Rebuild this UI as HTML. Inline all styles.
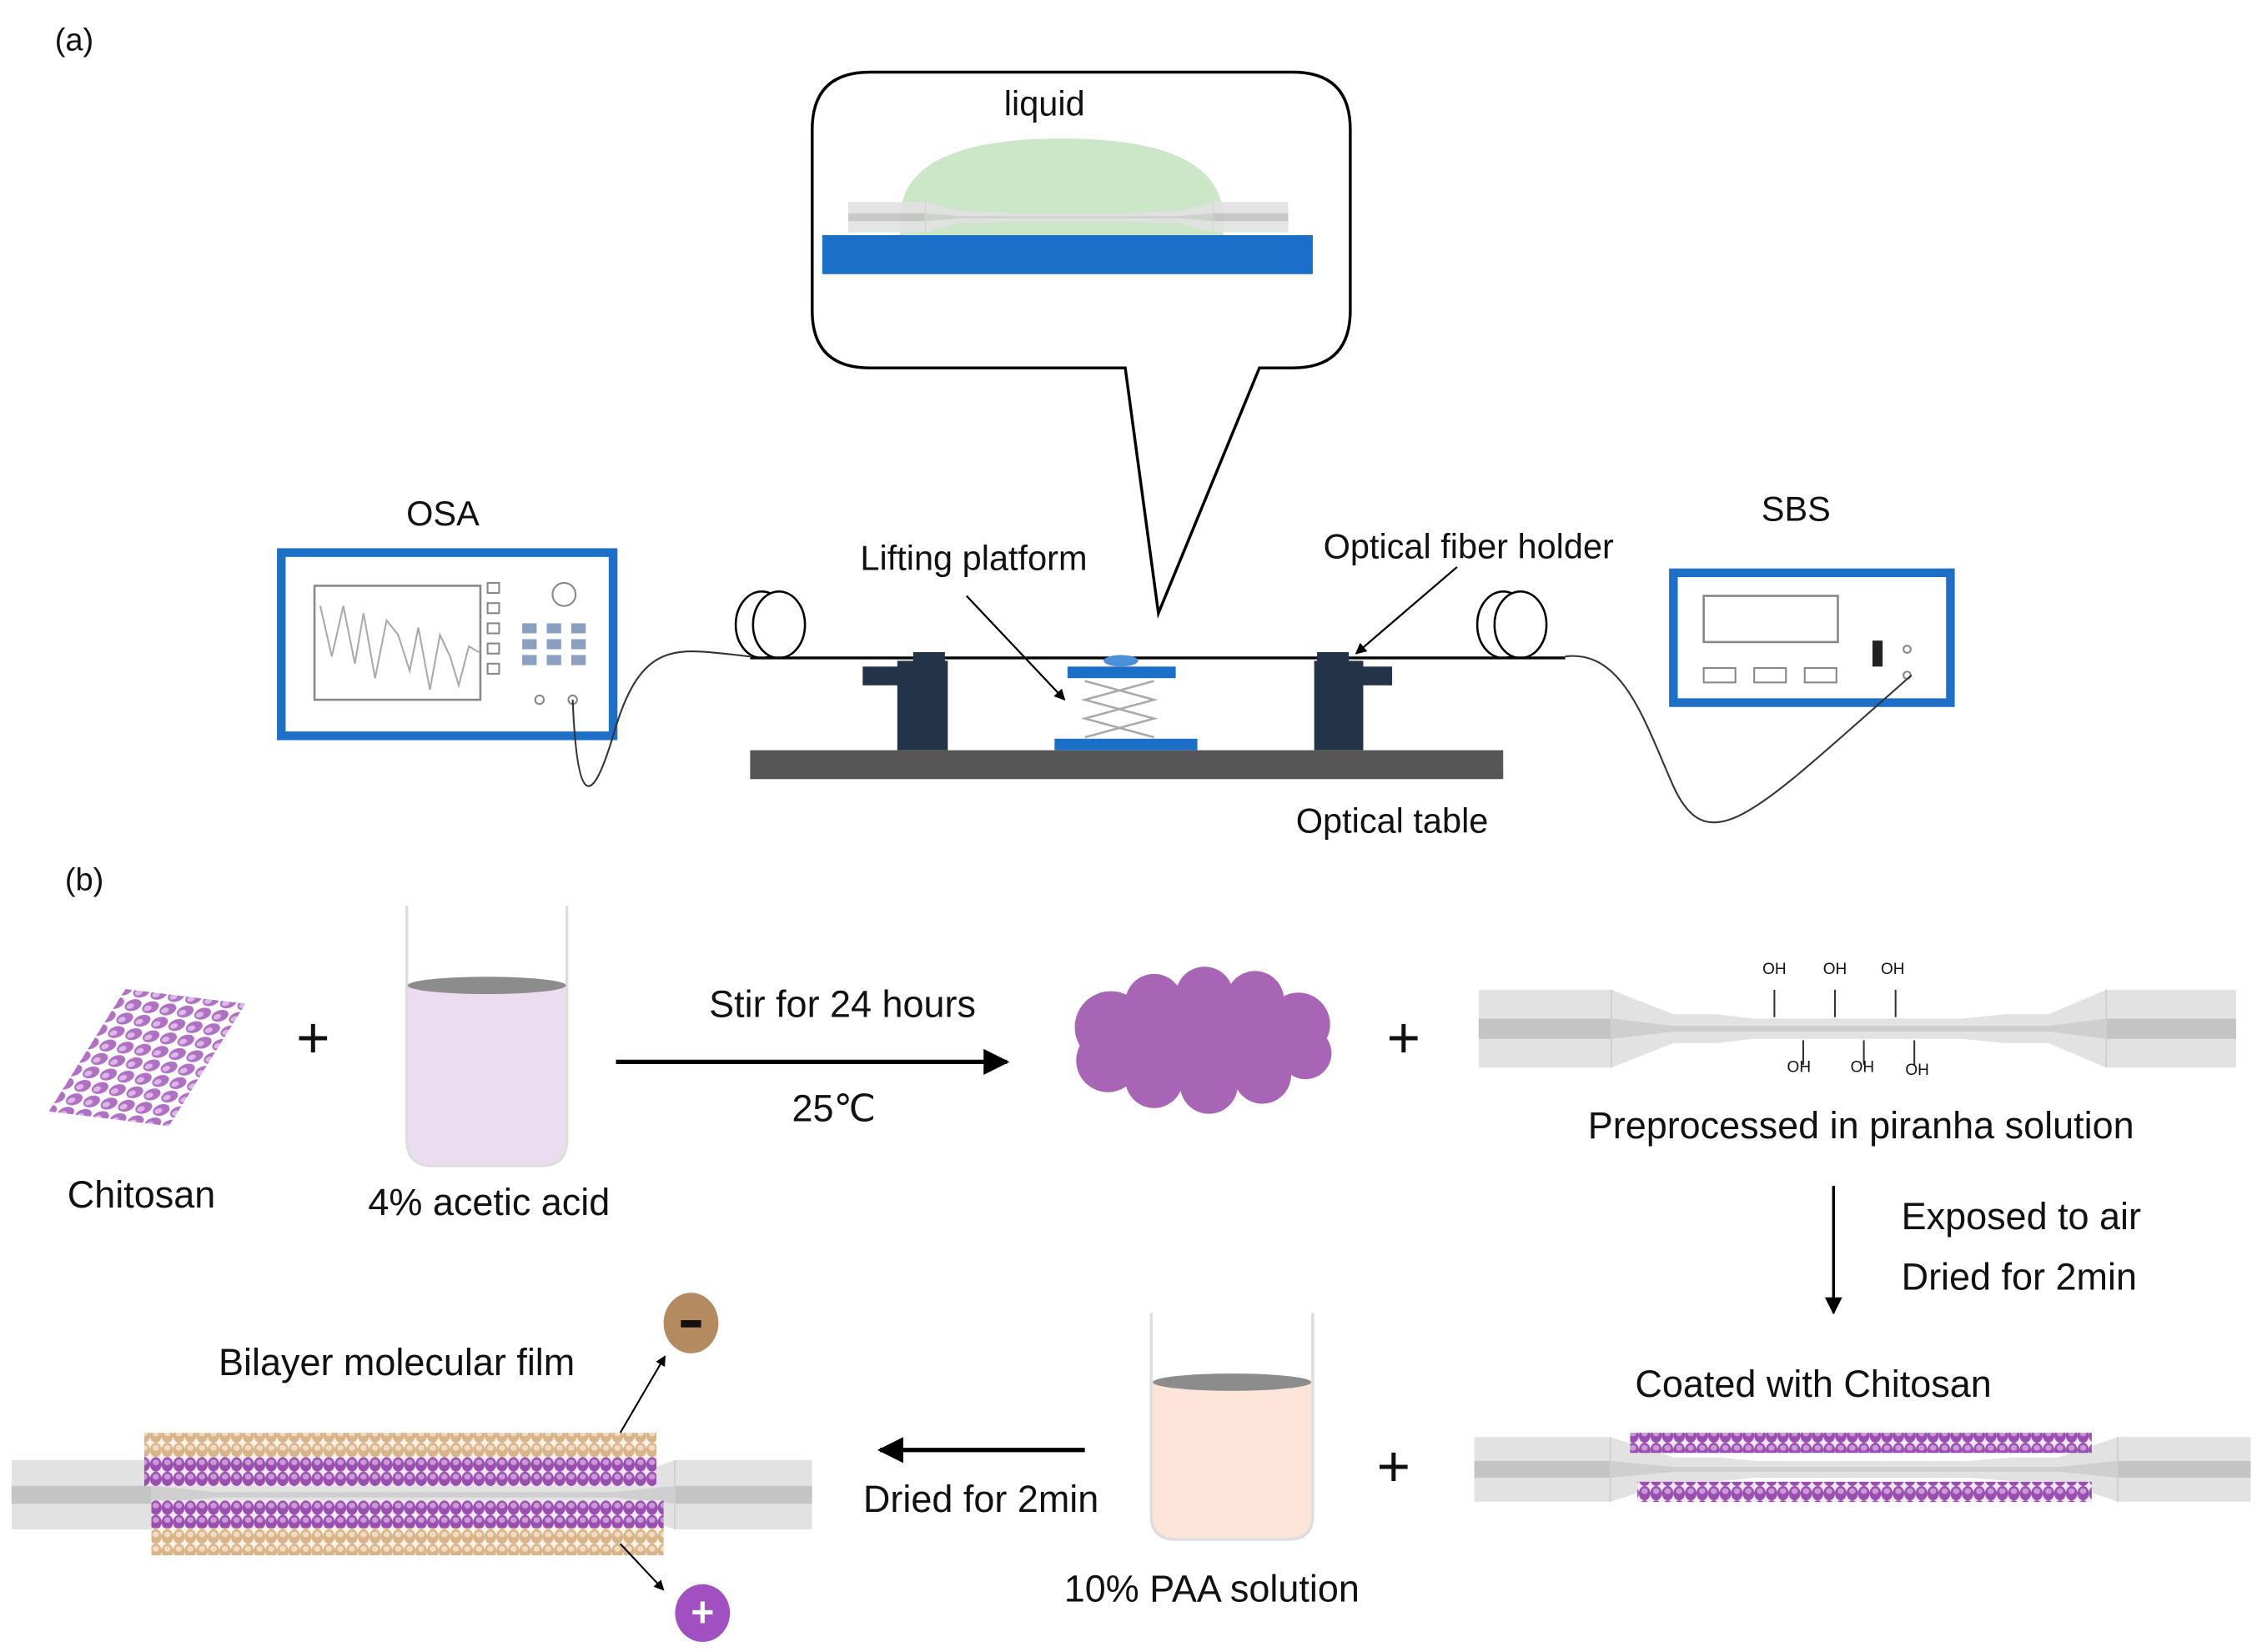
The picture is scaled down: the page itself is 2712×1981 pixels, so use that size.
<!DOCTYPE html>
<html><head><meta charset="utf-8"><style>
html,body{margin:0;padding:0;background:#fff;}
svg{display:block;}
text{font-family:"Liberation Sans",sans-serif;fill:#111;}
</style></head><body>
<svg width="2712" height="1981" viewBox="0 0 1568 1145" preserveAspectRatio="none" xmlns="http://www.w3.org/2000/svg">
<defs>
<pattern id="pur" width="8" height="10" patternUnits="userSpaceOnUse">
<rect width="8" height="10" fill="#f3e8f5"/>
<ellipse cx="4" cy="5" rx="4" ry="5" fill="#9a4fb0"/>
<ellipse cx="4" cy="3.5" rx="2.2" ry="2" fill="#c99ad6"/>
</pattern>
<pattern id="pur2" width="11" height="11" patternUnits="userSpaceOnUse">
<circle cx="5.5" cy="5.5" r="4.8" fill="#b070c4"/>
<circle cx="4.5" cy="4.2" r="2.2" fill="#dcb8e6"/>
</pattern>
<pattern id="tan" width="8" height="10" patternUnits="userSpaceOnUse">
<rect width="8" height="10" fill="#fbf1e6"/>
<ellipse cx="4" cy="5" rx="4" ry="5" fill="#d8b48a"/>
<ellipse cx="4" cy="3.5" rx="2.2" ry="2" fill="#f1dcc2"/>
</pattern>
<marker id="ah" viewBox="0 0 10 10" refX="9" refY="5" markerWidth="6" markerHeight="6" orient="auto-start-reverse">
<path d="M0,0 L10,5 L0,10 z" fill="#000"/></marker>
<g id="fiber">
<path d="M0,0 L92,0 L135,17 L165,17 L190,20 L335,20 L365,17 L395,17 L435,0 L525,0 L525,54 L435,54 L395,37 L365,37 L335,34 L190,34 L165,37 L135,37 L92,54 L0,54 z" fill="#e2e2e2"/>
<path d="M0,20 L92,20 L135,27 L165,27 L190,27 L335,27 L365,27 L395,27 L435,20 L525,20 L525,34 L435,34 L395,27 L135,27 L92,34 L0,34 z" fill="#c4c4c4"/>
<path d="M92,20 L135,25 L395,25 L435,20 L435,34 L395,29 L135,29 L92,34 z" fill="#cfcfcf"/>
<line x1="92" y1="0" x2="92" y2="54" stroke="#cfcfcf" stroke-width="1"/>
<line x1="435" y1="0" x2="435" y2="54" stroke="#cfcfcf" stroke-width="1"/>
</g>
</defs>

<!-- (a) -->
<text x="38" y="35" font-size="22">(a)</text>
<path d="M603,50 L896,50 Q936,50 936,90 L936,215 Q936,255 896,255 L873,255 L803,425 L780,255 L603,255 Q563,255 563,215 L563,90 Q563,50 603,50 z" fill="#fff" stroke="#000" stroke-width="2"/>
<text x="724" y="80" font-size="24" text-anchor="middle">liquid</text>
<path d="M624,163 L624,150 Q626,96 736,96 Q846,96 848,150 L848,163 z" fill="#cbe7c7"/>
<use href="#fiber" transform="translate(588,140) scale(0.581,0.39)" opacity="0.9"/>
<rect x="570" y="163" width="340" height="27" fill="#1a6fc9"/>

<!-- OSA -->
<text x="307" y="364" font-size="24" text-anchor="middle">OSA</text>
<rect x="198" y="386" width="230" height="127" fill="#ccc" opacity="0.5"/>
<rect x="195" y="383" width="230" height="127" fill="#fff" stroke="#1e6fc8" stroke-width="6"/>
<rect x="218" y="406" width="115" height="79" fill="#fff" stroke="#888" stroke-width="1.5"/>
<polyline points="222,420 230,455 238,420 246,460 252,425 260,470 268,430 276,440 284,465 290,435 298,478 305,440 312,455 318,475 325,448 332,452" fill="none" stroke="#aaa" stroke-width="1.2"/>
<g fill="#fff" stroke="#888" stroke-width="1.2">
<rect x="338" y="404" width="8" height="7"/><rect x="338" y="418" width="8" height="7"/><rect x="338" y="432" width="8" height="7"/><rect x="338" y="446" width="8" height="7"/><rect x="338" y="460" width="8" height="7"/>
<circle cx="391" cy="412" r="8"/><circle cx="374" cy="485" r="3"/><circle cx="397" cy="485" r="3"/></g>
<g fill="#8aa0c0"><rect x="362" y="432" width="10" height="7"/><rect x="379" y="432" width="10" height="7"/><rect x="396" y="432" width="10" height="7"/>
<rect x="362" y="443" width="10" height="7"/><rect x="379" y="443" width="10" height="7"/><rect x="396" y="443" width="10" height="7"/>
<rect x="362" y="454" width="10" height="7"/><rect x="379" y="454" width="10" height="7"/><rect x="396" y="454" width="10" height="7"/></g>

<!-- SBS -->
<text x="1245" y="361" font-size="24" text-anchor="middle">SBS</text>
<rect x="1163" y="400" width="192" height="90" fill="#ccc" opacity="0.5"/>
<rect x="1160" y="397" width="192" height="90" fill="#fff" stroke="#1e6fc8" stroke-width="6"/>
<rect x="1181" y="413" width="93" height="32" fill="#fff" stroke="#888" stroke-width="1.5"/>
<g fill="#fff" stroke="#888" stroke-width="1.2"><rect x="1181" y="463" width="22" height="10"/><rect x="1216" y="463" width="22" height="10"/><rect x="1251" y="463" width="22" height="10"/><circle cx="1322" cy="450" r="2.5"/><circle cx="1322" cy="468" r="2.5"/></g>
<rect x="1298" y="444" width="7" height="18" fill="#222"/>

<!-- coils & fiber -->
<ellipse cx="528" cy="433" rx="18" ry="23" fill="#fff" stroke="#000" stroke-width="1.5"/>
<ellipse cx="540" cy="433" rx="18" ry="23" fill="#fff" stroke="#000" stroke-width="1.5"/>
<ellipse cx="1042" cy="433" rx="18" ry="23" fill="#fff" stroke="#000" stroke-width="1.5"/>
<ellipse cx="1054" cy="433" rx="18" ry="23" fill="#fff" stroke="#000" stroke-width="1.5"/>
<line x1="520" y1="456" x2="1085" y2="456" stroke="#000" stroke-width="2"/>
<path d="M397,485 C400,560 410,560 425,510 C445,440 470,450 520,455" fill="none" stroke="#333" stroke-width="1.2"/>
<path d="M1085,455 C1125,450 1140,500 1160,545 C1185,600 1220,560 1325,468" fill="none" stroke="#333" stroke-width="1.2"/>

<!-- holders -->
<g fill="#243448">
<rect x="622" y="458" width="35" height="62"/><rect x="633" y="452" width="22" height="10"/><rect x="598" y="462" width="26" height="13"/>
<rect x="911" y="458" width="34" height="62"/><rect x="913" y="452" width="22" height="10"/><rect x="943" y="462" width="22" height="13"/>
</g>
<rect x="520" y="520" width="522" height="20" fill="#565656"/>
<rect x="740" y="462" width="75" height="8" fill="#1a6fc9"/>
<ellipse cx="777" cy="458" rx="12" ry="4" fill="#4a8fd8"/>
<rect x="731" y="512" width="99" height="8" fill="#1a6fc9"/>
<polyline points="752,472 800,485 752,498 800,511" fill="none" stroke="#aaa" stroke-width="1.5"/>
<polyline points="800,472 752,485 800,498 752,511" fill="none" stroke="#aaa" stroke-width="1.5"/>
<text x="675" y="395" font-size="24" text-anchor="middle">Lifting platform</text>
<line x1="670" y1="413" x2="738" y2="485" stroke="#000" stroke-width="1.3" marker-end="url(#ah)"/>
<text x="1018" y="387" font-size="24" text-anchor="middle">Optical fiber holder</text>
<line x1="1010" y1="393" x2="940" y2="453" stroke="#000" stroke-width="1.3" marker-end="url(#ah)"/>
<text x="965" y="577" font-size="24" text-anchor="middle">Optical table</text>

<!-- (b) -->
<text x="45" y="617" font-size="22">(b)</text>
<g transform="translate(102,733) rotate(-58)">
<rect x="-50" y="-38" width="100" height="76" fill="url(#pur2)" transform="skewX(25)"/>
</g>
<text x="98" y="837" font-size="26" text-anchor="middle">Chitosan</text>
<text x="217" y="733" font-size="40" text-anchor="middle">+</text>
<path d="M282,628 L282,790 Q282,808 300,808 L375,808 Q393,808 393,790 L393,628" fill="#fff" stroke="#ddd" stroke-width="2"/>
<path d="M283,683 L283,790 Q283,807 300,807 L375,807 Q392,807 392,790 L392,683 z" fill="#ecdcf0"/>
<ellipse cx="337.5" cy="683" rx="55" ry="6" fill="#8c8c8c"/>
<text x="339" y="842" font-size="26" text-anchor="middle">4% acetic acid</text>
<line x1="427" y1="736" x2="698" y2="736" stroke="#000" stroke-width="3" marker-end="url(#ah)"/>
<text x="584" y="705" font-size="26" text-anchor="middle">Stir for 24 hours</text>
<text x="578" y="777" font-size="26" text-anchor="middle">25℃</text>
<g fill="#a865b5">
<ellipse cx="832" cy="720" rx="82" ry="32"/>
<circle cx="770" cy="712" r="25"/><circle cx="800" cy="695" r="20"/><circle cx="835" cy="690" r="20"/><circle cx="870" cy="693" r="20"/><circle cx="900" cy="710" r="22"/>
<circle cx="768" cy="735" r="22"/><circle cx="800" cy="748" r="20"/><circle cx="838" cy="752" r="20"/><circle cx="875" cy="745" r="20"/><circle cx="905" cy="730" r="18"/>
</g>
<text x="973" y="733" font-size="40" text-anchor="middle">+</text>
<use href="#fiber" transform="translate(1025,686)"/>
<g stroke="#333" stroke-width="1.2">
<line x1="1230" y1="686" x2="1230" y2="705"/><line x1="1272" y1="686" x2="1272" y2="705"/><line x1="1314" y1="686" x2="1314" y2="705"/>
<line x1="1250" y1="721" x2="1250" y2="738"/><line x1="1292" y1="721" x2="1292" y2="738"/><line x1="1327" y1="721" x2="1327" y2="738"/>
</g>
<g font-size="11" text-anchor="middle">
<text x="1230" y="675">OH</text><text x="1272" y="675">OH</text><text x="1312" y="675">OH</text>
<text x="1247" y="743">OH</text><text x="1291" y="743">OH</text><text x="1329" y="745">OH</text></g>
<text x="1290" y="789" font-size="26" text-anchor="middle">Preprocessed in piranha solution</text>
<line x1="1271" y1="822" x2="1271" y2="910" stroke="#000" stroke-width="2" marker-end="url(#ah)"/>
<text x="1318" y="852" font-size="26">Exposed to air</text>
<text x="1318" y="894" font-size="26">Dried for 2min</text>
<text x="1257" y="968" font-size="26" text-anchor="middle">Coated with Chitosan</text>
<use href="#fiber" transform="translate(1022,996) scale(1.025,0.83)"/>
<rect x="1130" y="993" width="320" height="14" fill="url(#pur)"/>
<rect x="1135" y="1027" width="315" height="14" fill="url(#pur)"/>
<text x="966" y="1030" font-size="40" text-anchor="middle">+</text>
<path d="M798,910 L798,1050 Q798,1067 815,1067 L893,1067 Q910,1067 910,1050 L910,910" fill="#fff" stroke="#ddd" stroke-width="2"/>
<path d="M799,958 L799,1050 Q799,1066 815,1066 L893,1066 Q909,1066 909,1050 L909,958 z" fill="#fce4d8"/>
<ellipse cx="854" cy="958" rx="55" ry="6" fill="#8c8c8c"/>
<text x="840" y="1110" font-size="26" text-anchor="middle">10% PAA solution</text>
<line x1="752" y1="1005" x2="610" y2="1005" stroke="#000" stroke-width="3" marker-end="url(#ah)"/>
<text x="680" y="1048" font-size="26" text-anchor="middle">Dried for 2min</text>
<use href="#fiber" transform="translate(8,1012) scale(1.057,0.89)"/>
<rect x="100" y="993" width="355" height="18" fill="url(#tan)"/>
<rect x="100" y="1010" width="355" height="20" fill="url(#pur)"/>
<rect x="105" y="1040" width="355" height="20" fill="url(#pur)"/>
<rect x="105" y="1059" width="355" height="19" fill="url(#tan)"/>
<text x="275" y="953" font-size="26" text-anchor="middle">Bilayer molecular film</text>
<line x1="430" y1="993" x2="461" y2="940" stroke="#000" stroke-width="1.2" marker-end="url(#ah)"/>
<line x1="430" y1="1070" x2="460" y2="1102" stroke="#000" stroke-width="1.2" marker-end="url(#ah)"/>
<ellipse cx="479" cy="917" rx="19" ry="21" fill="#b48a60"/>
<rect x="472" y="915" width="14" height="5" fill="#111"/>
<ellipse cx="487" cy="1118" rx="19" ry="20" fill="#a050c0"/>
<rect x="480" y="1116" width="14" height="3" fill="#fff"/><rect x="485.5" y="1110" width="3" height="15" fill="#fff"/>
</svg>
</body></html>
